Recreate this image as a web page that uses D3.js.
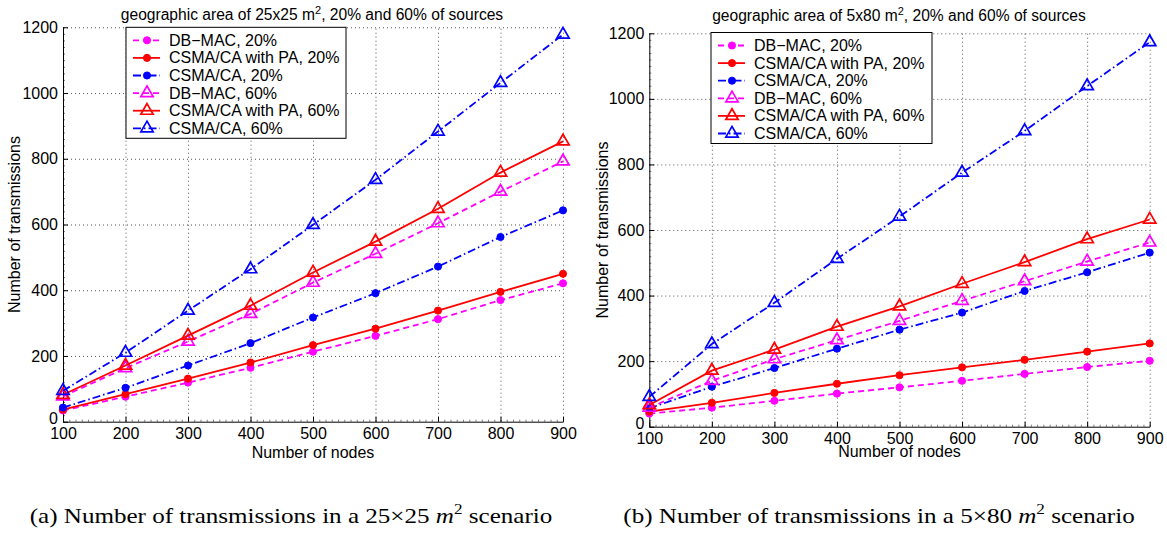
<!DOCTYPE html>
<html>
<head>
<meta charset="utf-8">
<script src="https://cdn.jsdelivr.net/npm/d3@7"></script>
<style>
body { margin: 0; background: #fff; }
svg text { font-family: "Liberation Sans", Arial, Helvetica, sans-serif; fill: #000; }
.caption { font-family: "Liberation Serif", "Times New Roman", serif; }
</style>
</head>
<body>
<svg id="chart" width="1167" height="534"></svg>
<script>
// x values and ticks
var nodes = [100, 200, 300, 400, 500, 600, 700, 800, 900];
var yTicks = [0, 200, 400, 600, 800, 1000, 1200];

// legend entries, same order in both panels
var seriesNames = [
	'DB\u2212MAC, 20%',
	'CSMA/CA with PA, 20%',
	'CSMA/CA, 20%',
	'DB\u2212MAC, 60%',
	'CSMA/CA with PA, 60%',
	'CSMA/CA, 60%'
];

// (a) 25x25 m2 scenario
var dbmac20A = [34, 76, 119, 164, 213, 261, 312, 370, 421];
var paca20A  = [37, 84, 131, 180, 233, 283, 338, 395, 450];
var csma20A  = [43, 103, 171, 239, 317, 391, 472, 562, 643];
var dbmac60A = [77, 163, 244, 328, 423, 511, 604, 700, 792];
var paca60A  = [82, 171, 262, 353, 454, 548, 648, 758, 853];
var csma60A  = [94, 210, 338, 464, 599, 736, 883, 1031, 1178];

// (b) 5x80 m2 scenario
var dbmac20B = [40, 58, 79, 101, 120, 140, 161, 182, 201];
var paca20B  = [46, 73, 103, 131, 157, 181, 204, 229, 254];
var csma20B  = [56, 122, 179, 238, 296, 348, 414, 471, 531];
var dbmac60B = [58, 140, 206, 264, 323, 384, 444, 504, 562];
var paca60B  = [66, 171, 235, 305, 367, 436, 502, 572, 632];
var csma60B  = [91, 252, 378, 512, 641, 775, 902, 1039, 1173];

// look of each series
var colors  = ['#ff00ff', '#ff0000', '#0000ff', '#ff00ff', '#ff0000', '#0000ff'];
var dashes  = ['6,4', null, '8,3,1.5,3', '6,4', null, '8,3,1.5,3'];
var markers = ['circle', 'circle', 'circle', 'triangle', 'triangle', 'triangle'];

var svg = d3.select('#chart');

var drawMarker = function(sel, kind, color, size) {
	var sym = d3.symbol()
		.type(kind === 'circle' ? d3.symbolCircle : d3.symbolTriangle)
		.size(size || (kind === 'circle' ? 40 : 66));
	sel.attr('d', sym)
		.attr('fill', kind === 'circle' ? color : 'none')
		.attr('stroke', color)
		.attr('stroke-width', kind === 'circle' ? 1 : 1.7);
};

var drawPanel = function(p) {
	var x = d3.scaleLinear().domain([100, 900]).range([p.left, p.right]);
	var y = d3.scaleLinear().domain([0, 1200]).range([p.bottom, p.top]);
	var g = svg.append('g');

	// dotted grid
	var gx = g.append('g')
		.attr('transform', 'translate(0,' + p.bottom + ')')
		.call(d3.axisBottom(x).tickValues(nodes.slice(1)).tickSize(-(p.bottom - p.top)).tickFormat(''));
	var gy = g.append('g')
		.attr('transform', 'translate(' + p.left + ',0)')
		.call(d3.axisLeft(y).tickValues(yTicks.slice(1)).tickSize(-(p.right - p.left)).tickFormat(''));
	[gx, gy].forEach(function(s) {
		s.select('.domain').remove();
		s.selectAll('line').attr('stroke', '#555').attr('stroke-dasharray', '1,3');
	});

	// minor ticks
	var mx = g.append('g')
		.attr('transform', 'translate(0,' + p.bottom + ')')
		.call(d3.axisBottom(x).tickValues(d3.range(100, 901, 10)).tickSize(-2).tickFormat(''));
	var my = g.append('g')
		.attr('transform', 'translate(' + p.left + ',0)')
		.call(d3.axisLeft(y).tickValues(d3.range(0, 1201, 20)).tickSize(-2).tickFormat(''));
	[mx, my].forEach(function(s) {
		s.select('.domain').remove();
		s.selectAll('line').attr('stroke', '#444').attr('stroke-width', 0.7);
	});

	// main axes, box off
	var ax = g.append('g')
		.attr('transform', 'translate(0,' + p.bottom + ')')
		.call(d3.axisBottom(x).tickValues(nodes).tickFormat(d3.format('d'))
			.tickSizeInner(-5).tickSizeOuter(0).tickPadding(6));
	var ay = g.append('g')
		.attr('transform', 'translate(' + p.left + ',0)')
		.call(d3.axisLeft(y).tickValues(yTicks).tickFormat(d3.format('d'))
			.tickSizeInner(-5).tickSizeOuter(0).tickPadding(5));
	[ax, ay].forEach(function(s) {
		s.attr('font-family', null).attr('font-size', null);
		s.select('.domain').attr('stroke', '#000');
		s.selectAll('text').style('font-size', '16px');
	});
	// the 0 label sits a bit lower in matlab output
	ay.selectAll('.tick text').filter(function(d) { return d === 0; }).attr('dy', '0.1em');

	// series
	p.series.forEach(function(vals, i) {
		var pts = vals.map(function(v, k) { return [nodes[k], v]; });
		g.append('path')
			.datum(pts)
			.attr('fill', 'none')
			.attr('stroke', colors[i])
			.attr('stroke-width', 1.8)
			.attr('stroke-dasharray', dashes[i])
			.attr('d', d3.line().x(function(d) { return x(d[0]); }).y(function(d) { return y(d[1]); }));
		g.selectAll('.m' + i).data(pts).enter().append('path')
			.attr('class', 'm' + i)
			.attr('transform', function(d) { return 'translate(' + x(d[0]) + ',' + y(d[1]) + ')'; })
			.call(drawMarker, markers[i], colors[i]);
	});

	// title
	var t = g.append('text')
		.attr('x', p.titleX).attr('y', p.titleY)
		.attr('text-anchor', 'middle')
		.style('font-size', '15.6px');
	t.append('tspan').text('geographic area of ' + p.area + ' m');
	t.append('tspan').attr('dy', -6).style('font-size', '11px').text('2');
	t.append('tspan').attr('dy', 6).text(', 20% and 60% of sources');

	// axis labels
	g.append('text')
		.attr('x', (p.left + p.right) / 2 + p.xLabelShift).attr('y', p.xLabelY)
		.attr('text-anchor', 'middle')
		.attr('dominant-baseline', 'central')
		.style('font-size', '16px')
		.text('Number of nodes');
	g.append('text')
		.attr('transform', 'translate(' + p.yLabelX + ',' + (p.top + p.bottom) / 2 + ') rotate(-90)')
		.attr('text-anchor', 'middle')
		.attr('dominant-baseline', 'central')
		.style('font-size', '16px')
		.text('Number of transmissions');

	// legend
	var lg = g.append('g').attr('transform', 'translate(' + p.legX + ',' + p.legY + ')');
	lg.append('rect')
		.attr('width', p.legW).attr('height', 111)
		.attr('fill', '#fff').attr('stroke', '#000');
	seriesNames.forEach(function(name, i) {
		var ry = 13 + i * 17.6;
		lg.append('line')
			.attr('x1', 7).attr('x2', 34).attr('y1', ry).attr('y2', ry)
			.attr('stroke', colors[i]).attr('stroke-width', 1.8)
			.attr('stroke-dasharray', dashes[i]);
		lg.append('path')
			.attr('transform', 'translate(21,' + ry + ')')
			.call(drawMarker, markers[i], colors[i]);
		lg.append('text')
			.attr('x', 43).attr('y', ry)
			.attr('dominant-baseline', 'central')
			.style('font-size', '16px')
			.text(name);
	});

	// caption under the panel (reference glyphs are a little wide, so stretch x)
	var c = svg.append('text')
		.attr('class', 'caption')
		.attr('transform', 'translate(' + p.captionX + ',523) scale(1.14,1)')
		.attr('text-anchor', 'middle')
		.style('font-size', '22px');
	c.append('tspan').text(p.captionTag + ' Number of transmissions in a ' + p.captionArea + ' ');
	c.append('tspan').style('font-style', 'italic').text('m');
	c.append('tspan').attr('dy', -9).style('font-size', '15px').text('2');
	c.append('tspan').attr('dy', 9).text(' scenario');
};

drawPanel({
	left: 63, right: 563, top: 27.3, bottom: 421.7,
	series: [dbmac20A, paca20A, csma20A, dbmac60A, paca60A, csma60A],
	area: '25x25', titleX: 312, titleY: 20,
	xLabelY: 452, xLabelShift: 0, yLabelX: 14,
	legX: 126, legY: 27.3, legW: 220,
	captionTag: '(a)', captionArea: '25\u00d725', captionX: 291
});

drawPanel({
	left: 649.3, right: 1149.7, top: 33.3, bottom: 426.7,
	series: [dbmac20B, paca20B, csma20B, dbmac60B, paca60B, csma60B],
	area: '5x80', titleX: 899, titleY: 21,
	xLabelY: 451, xLabelShift: 0, yLabelX: 602,
	legX: 711, legY: 32.5, legW: 221,
	captionTag: '(b)', captionArea: '5\u00d780', captionX: 879
});
</script>
</body>
</html>
